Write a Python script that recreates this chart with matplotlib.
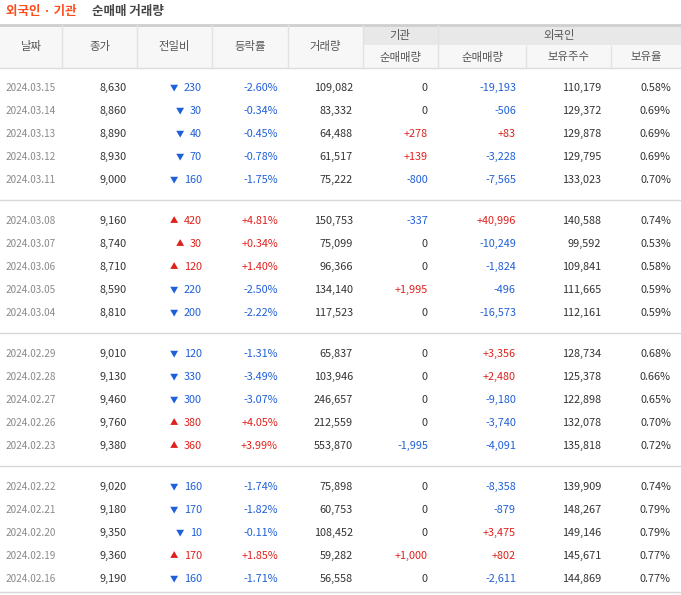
import matplotlib
matplotlib.use("Agg")
import matplotlib.pyplot as plt

plt.rcParams["font.family"] = ["Noto Sans CJK KR", "DejaVu Sans"]

dates = ["2024.03.15", "2024.03.14", "2024.03.13", "2024.03.12", "2024.03.11",
         "2024.03.08", "2024.03.07", "2024.03.06", "2024.03.05", "2024.03.04",
         "2024.02.29", "2024.02.28", "2024.02.27", "2024.02.26", "2024.02.23",
         "2024.02.22", "2024.02.21", "2024.02.20", "2024.02.19", "2024.02.16"]
close = [8630, 8860, 8890, 8930, 9000, 9160, 8740, 8710, 8590, 8810,
         9010, 9130, 9460, 9760, 9380, 9020, 9180, 9350, 9360, 9190]
change = [-230, -30, -40, -70, -160, 420, 30, 120, -220, -200,
          -120, -330, -300, 380, 360, -160, -170, -10, 170, -160]
rate = [-2.60, -0.34, -0.45, -0.78, -1.75, 4.81, 0.34, 1.40, -2.50, -2.22,
        -1.31, -3.49, -3.07, 4.05, 3.99, -1.74, -1.82, -0.11, 1.85, -1.71]
volume = [109082, 83332, 64488, 61517, 75222, 150753, 75099, 96366, 134140, 117523,
          65837, 103946, 246657, 212559, 553870, 75898, 60753, 108452, 59282, 56558]
inst = [0, 0, 278, 139, -800, -337, 0, 0, 1995, 0,
        0, 0, 0, 0, -1995, 0, 0, 0, 1000, 0]
foreign = [-19193, -506, 83, -3228, -7565, 40996, -10249, -1824, -496, -16573,
           3356, 2480, -9180, -3740, -4091, -8358, -879, 3475, 802, -2611]
holdings = [110179, 129372, 129878, 129795, 133023, 140588, 99592, 109841, 111665, 112161,
            128734, 125378, 122898, 132078, 135818, 139909, 148267, 149146, 145671, 144869]
hold_ratio = [0.58, 0.69, 0.69, 0.69, 0.70, 0.74, 0.53, 0.58, 0.59, 0.59,
              0.68, 0.66, 0.65, 0.70, 0.72, 0.74, 0.79, 0.79, 0.77, 0.77]

RED, BLUE, TXT, GRAY = "#e0201c", "#1f5fd8", "#333333", "#8a8a8a"
W, H = 681, 595
fig = plt.figure(figsize=(W / 100, H / 100), dpi=100)
ax = fig.add_axes([0, 0, 1, 1])
ax.set_xlim(0, W)
ax.set_ylim(H, 0)
ax.axis("off")

cols = [0, 62, 137, 212, 288, 363, 438, 526, 611, 681]
fs = 7.8

def sc(v):
    return RED if v > 0 else (BLUE if v < 0 else TXT)

def signed(v):
    return f"+{v:,}" if v > 0 else f"{v:,}"

# title
ax.text(6, 12, "외국인 · 기관", color="#ff4a1a", fontsize=9, fontweight="bold", va="center")
ax.text(92, 12, "순매매 거래량", color="#444", fontsize=9, fontweight="bold", va="center")

# header
top, mid, bot = 25, 46, 68
ax.add_patch(plt.Rectangle((0, top), W, bot - top, color="#f7f7f7", lw=0))
ax.add_patch(plt.Rectangle((363, top), W - 363, mid - top, color="#e8e8e8", lw=0))
ax.plot([0, W], [top, top], color="#cfcfcf", lw=2)
ax.plot([0, W], [bot, bot], color="#dcdcdc", lw=1)
ax.plot([363, W], [mid, mid], color="#f7f7f7", lw=1.5)
for x in cols[1:-1]:
    y0 = mid if x in (526, 611) else top
    ax.plot([x, x], [y0, bot], color="#e2e2e2", lw=1)
for i, lab in enumerate(["날짜", "종가", "전일비", "등락률", "거래량"]):
    ax.text((cols[i] + cols[i + 1]) / 2, (top + bot) / 2, lab, ha="center", va="center", fontsize=8.2, color="#555")
ax.text(400, 35.5, "기관", ha="center", va="center", fontsize=8.2, color="#555")
ax.text(559, 35.5, "외국인", ha="center", va="center", fontsize=8.2, color="#555")
for i, lab in zip(range(5, 9), ["순매매량", "순매매량", "보유주수", "보유율"]):
    ax.text((cols[i] + cols[i + 1]) / 2, 57, lab, ha="center", va="center", fontsize=8.2, color="#555")

# rows
for k in range(len(dates)):
    g, r = divmod(k, 5)
    y = 88 + g * 133 + r * 23
    ax.text(6, y, dates[k], va="center", fontsize=7.2, color=GRAY)
    ax.text(127, y, f"{close[k]:,}", ha="right", va="center", fontsize=fs, color=TXT)
    c = sc(change[k])
    s = f"{abs(change[k]):,}"
    ax.text(202, y, s, ha="right", va="center", fontsize=fs, color=c)
    ax.text(202 - len(s) * 6.5 - 9, y, "▼" if change[k] < 0 else "▲", ha="center", va="center", fontsize=6, color=c)
    ax.text(278, y, (f"+{rate[k]:.2f}%" if rate[k] > 0 else f"{rate[k]:.2f}%"),
            ha="right", va="center", fontsize=fs, color=sc(rate[k]))
    ax.text(353, y, f"{volume[k]:,}", ha="right", va="center", fontsize=fs, color=TXT)
    ax.text(428, y, signed(inst[k]), ha="right", va="center", fontsize=fs, color=sc(inst[k]))
    ax.text(516, y, signed(foreign[k]), ha="right", va="center", fontsize=fs, color=sc(foreign[k]))
    ax.text(601, y, f"{holdings[k]:,}", ha="right", va="center", fontsize=fs, color=TXT)
    ax.text(671, y, f"{hold_ratio[k]:.2f}%", ha="right", va="center", fontsize=fs, color=TXT)

for g in range(3):
    ys = 200 + g * 133
    ax.plot([0, W], [ys, ys], color="#d8d8d8", lw=1)
ax.plot([0, W], [592, 592], color="#d8d8d8", lw=1)

fig.savefig("out.png", dpi=100)
